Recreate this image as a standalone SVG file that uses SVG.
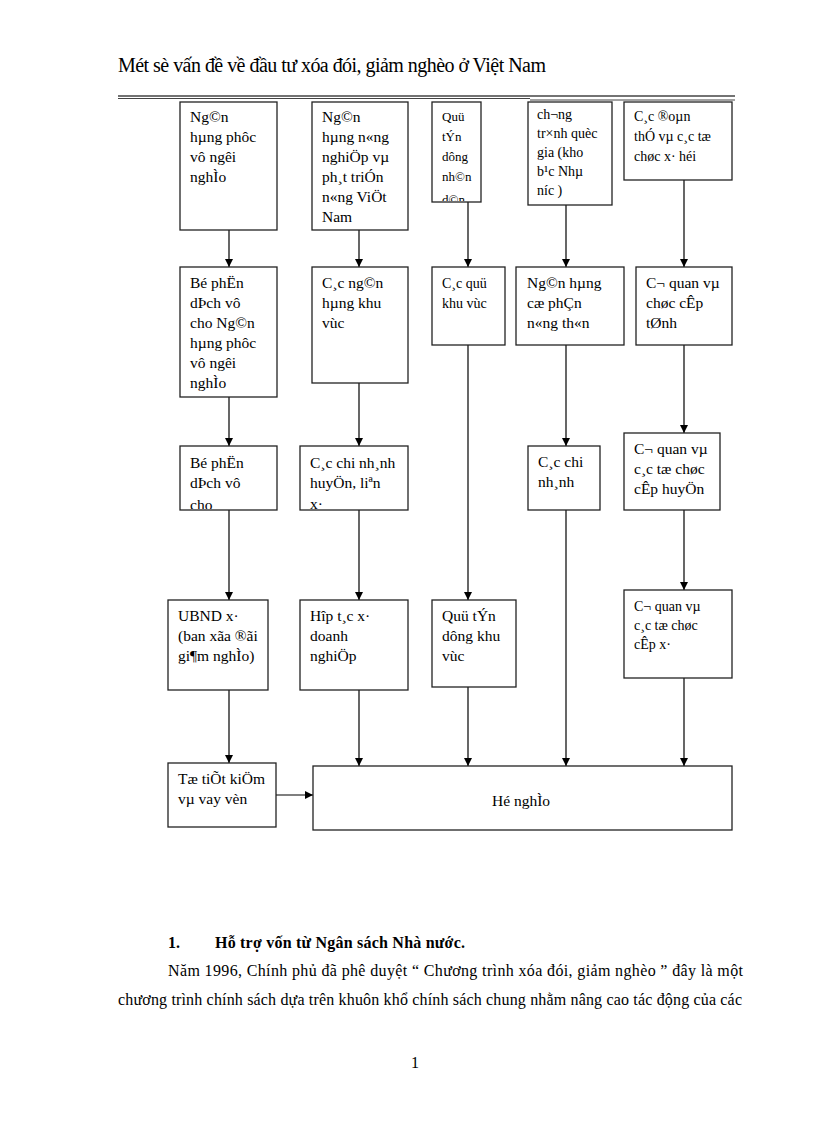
<svg xmlns="http://www.w3.org/2000/svg" width="816" height="1123" viewBox="0 0 816 1123">
<style>
.bx{fill:#fff;stroke:#222;stroke-width:1.3}
.t{font-family:"Liberation Serif","Times New Roman",serif;font-size:15.5px;fill:#000}
.ts{font-family:"Liberation Serif","Times New Roman",serif;font-size:14px;fill:#000}
.tx{font-family:"Liberation Serif","Times New Roman",serif;font-size:13px;fill:#000}
.c{stroke:#000;stroke-width:1.2;fill:none;marker-end:url(#ah)}
.hd{font-family:"Liberation Serif","Times New Roman",serif;font-size:20px;fill:#000}
.body{font-family:"Liberation Serif","Times New Roman",serif;font-size:16px;fill:#000}
</style>
<defs>
<marker id="ah" viewBox="0 0 10 10" refX="10" refY="5" markerWidth="8" markerHeight="8" markerUnits="userSpaceOnUse" orient="auto">
<path d="M0,0 L10,5 L0,10 z" fill="#000"/>
</marker>
<clipPath id="cp3"><rect x="432" y="102" width="49" height="99"/></clipPath>
<clipPath id="cp11"><rect x="180" y="446" width="97" height="63"/></clipPath>
<clipPath id="cp12"><rect x="300" y="446" width="108" height="63"/></clipPath>
</defs>
<rect width="816" height="1123" fill="#fff"/>

<g id="header">
<text class="hd" x="118" y="72" textLength="428" lengthAdjust="spacing">Mét sè vấn đề về đầu tư xóa đói, giảm nghèo ở Việt Nam</text>
<line x1="118" y1="96" x2="735" y2="96" stroke="#444" stroke-width="1.6"/>
<line x1="118" y1="98.5" x2="530" y2="98.5" stroke="#444" stroke-width="1"/>
<line x1="530" y1="100" x2="735" y2="100" stroke="#444" stroke-width="1"/>
</g>

<g id="connectors">
<line class="c" x1="229" y1="230" x2="229" y2="267"/>
<line class="c" x1="229" y1="397" x2="229" y2="446"/>
<line class="c" x1="229" y1="510" x2="229" y2="600"/>
<line class="c" x1="229" y1="690" x2="229" y2="763"/>
<line class="c" x1="359" y1="230" x2="359" y2="267"/>
<line class="c" x1="359" y1="383" x2="359" y2="446"/>
<line class="c" x1="359" y1="510" x2="359" y2="600"/>
<line class="c" x1="359" y1="690" x2="359" y2="766"/>
<line class="c" x1="468" y1="202" x2="468" y2="267"/>
<line class="c" x1="468" y1="345" x2="468" y2="600"/>
<line class="c" x1="468" y1="687" x2="468" y2="766"/>
<line class="c" x1="566" y1="205" x2="566" y2="267"/>
<line class="c" x1="566" y1="345" x2="566" y2="446"/>
<line class="c" x1="566" y1="510" x2="566" y2="766"/>
<line class="c" x1="684" y1="180" x2="684" y2="267"/>
<line class="c" x1="684" y1="345" x2="684" y2="433"/>
<line class="c" x1="684" y1="510" x2="684" y2="590"/>
<line class="c" x1="684" y1="678" x2="684" y2="766"/>
<line class="c" x1="276" y1="795" x2="313" y2="795"/>
</g>

<g id="n1"><rect class="bx" x="180" y="102" width="97" height="128"/>
<text class="t" x="190"><tspan x="190" y="122">Ng©n</tspan><tspan x="190" y="142">hµng  phôc</tspan><tspan x="190" y="162">vô ngêi</tspan><tspan x="190" y="182">nghÌo</tspan></text></g>

<g id="n2"><rect class="bx" x="312" y="102" width="96" height="128"/>
<text class="t" x="322"><tspan x="322" y="122">Ng©n</tspan><tspan x="322" y="142">hµng  n«ng</tspan><tspan x="322" y="162">nghiÖp  vµ</tspan><tspan x="322" y="182">ph¸t triÓn</tspan><tspan x="322" y="202">n«ng  ViÖt</tspan><tspan x="322" y="222">Nam</tspan></text></g>

<g id="n3"><rect class="bx" x="432" y="102" width="49" height="100"/>
<text class="tx" x="442" clip-path="url(#cp3)"><tspan x="442" y="121">Quü</tspan><tspan x="442" y="141">tÝn</tspan><tspan x="442" y="161">dông</tspan><tspan x="442" y="181">nh©n</tspan><tspan x="442" y="204">d©n</tspan></text></g>

<g id="n4"><rect class="bx" x="528" y="102" width="84" height="103"/>
<text class="ts" x="537"><tspan x="537" y="119">ch¬ng</tspan><tspan x="537" y="138">tr×nh quèc</tspan><tspan x="537" y="157">gia (kho</tspan><tspan x="537" y="176">b¹c Nhµ</tspan><tspan x="537" y="195">níc )</tspan></text></g>

<g id="n5"><rect class="bx" x="624" y="102" width="108" height="78"/>
<text class="ts" x="634"><tspan x="634" y="121">C¸c  ®oµn</tspan><tspan x="634" y="141">thÓ  vµ  c¸c  tæ</tspan><tspan x="634" y="161">chøc  x·  héi</tspan></text></g>

<g id="n6"><rect class="bx" x="180" y="267" width="97" height="130"/>
<text class="t" x="190"><tspan x="190" y="288">Bé phËn</tspan><tspan x="190" y="308">dÞch vô</tspan><tspan x="190" y="328">cho Ng©n</tspan><tspan x="190" y="348">hµng  phôc</tspan><tspan x="190" y="368">vô ngêi</tspan><tspan x="190" y="388">nghÌo</tspan></text></g>

<g id="n7"><rect class="bx" x="312" y="267" width="96" height="116"/>
<text class="t" x="322"><tspan x="322" y="288">C¸c ng©n</tspan><tspan x="322" y="308">hµng  khu</tspan><tspan x="322" y="328">vùc</tspan></text></g>

<g id="n8"><rect class="bx" x="432" y="267" width="73" height="78"/>
<text class="ts" x="442"><tspan x="442" y="288">C¸c  quü</tspan><tspan x="442" y="308">khu  vùc</tspan></text></g>

<g id="n9"><rect class="bx" x="516" y="267" width="108" height="78"/>
<text class="t" x="527"><tspan x="527" y="288">Ng©n hµng</tspan><tspan x="527" y="308">cæ phÇn</tspan><tspan x="527" y="328">n«ng  th«n</tspan></text></g>

<g id="n10"><rect class="bx" x="636" y="267" width="96" height="78"/>
<text class="t" x="646"><tspan x="646" y="288">C¬ quan  vµ</tspan><tspan x="646" y="308">chøc  cÊp</tspan><tspan x="646" y="328">tØnh</tspan></text></g>

<g id="n11"><rect class="bx" x="180" y="446" width="97" height="64"/>
<text class="t" x="190" clip-path="url(#cp11)"><tspan x="190" y="468">Bé phËn</tspan><tspan x="190" y="488">dÞch vô</tspan><tspan x="190" y="510">cho</tspan></text></g>

<g id="n12"><rect class="bx" x="300" y="446" width="108" height="64"/>
<text class="t" x="310" clip-path="url(#cp12)"><tspan x="310" y="468">C¸c  chi  nh¸nh</tspan><tspan x="310" y="488">huyÖn,  liªn</tspan><tspan x="310" y="509">x·</tspan></text></g>

<g id="n13"><rect class="bx" x="528" y="446" width="72" height="64"/>
<text class="t" x="538"><tspan x="538" y="467">C¸c  chi</tspan><tspan x="538" y="487">nh¸nh</tspan></text></g>

<g id="n14"><rect class="bx" x="624" y="433" width="96" height="77"/>
<text class="t" x="634"><tspan x="634" y="454">C¬ quan  vµ</tspan><tspan x="634" y="474">c¸c  tæ  chøc</tspan><tspan x="634" y="494">cÊp  huyÖn</tspan></text></g>

<g id="n15"><rect class="bx" x="168" y="600" width="100" height="90"/>
<text class="t" x="178"><tspan x="178" y="621">UBND  x·</tspan><tspan x="178" y="641">(ban xãa ®ãi</tspan><tspan x="178" y="661">gi¶m  nghÌo)</tspan></text></g>

<g id="n16"><rect class="bx" x="300" y="600" width="108" height="90"/>
<text class="t" x="310"><tspan x="310" y="621">Hîp  t¸c  x·</tspan><tspan x="310" y="641">doanh</tspan><tspan x="310" y="661">nghiÖp</tspan></text></g>

<g id="n17"><rect class="bx" x="432" y="600" width="84" height="87"/>
<text class="t" x="442"><tspan x="442" y="621">Quü tÝn</tspan><tspan x="442" y="641">dông  khu</tspan><tspan x="442" y="661">vùc</tspan></text></g>

<g id="n18"><rect class="bx" x="624" y="590" width="108" height="88"/>
<text class="ts" x="634"><tspan x="634" y="611">C¬ quan  vµ</tspan><tspan x="634" y="630">c¸c  tæ  chøc</tspan><tspan x="634" y="649">cÊp  x·</tspan></text></g>

<g id="n19"><rect class="bx" x="168" y="763" width="108" height="64"/>
<text class="t" x="178"><tspan x="178" y="784">Tæ tiÕt  kiÖm</tspan><tspan x="178" y="804">vµ  vay  vèn</tspan></text></g>

<g id="n20"><rect class="bx" x="313" y="766" width="419" height="64"/>
<text class="t" x="521" y="806" text-anchor="middle">Hé nghÌo</text></g>

<g id="bodytext">
<text class="body" x="168" y="948" font-weight="bold">1.</text>
<text class="body" x="215" y="948" font-weight="bold" textLength="250" lengthAdjust="spacing">Hỗ trợ vốn từ Ngân sách Nhà nước.</text>
<text class="body" x="168" y="976" textLength="575" lengthAdjust="spacing">Năm 1996, Chính phủ đã phê duyệt “ Chương trình xóa đói, giảm nghèo ” đây là một</text>
<text class="body" x="118" y="1005" textLength="624" lengthAdjust="spacing">chương trình chính sách dựa trên khuôn khổ chính sách chung nhằm nâng cao tác động của các</text>
<text class="body" x="411" y="1068">1</text>
</g>
</svg>
